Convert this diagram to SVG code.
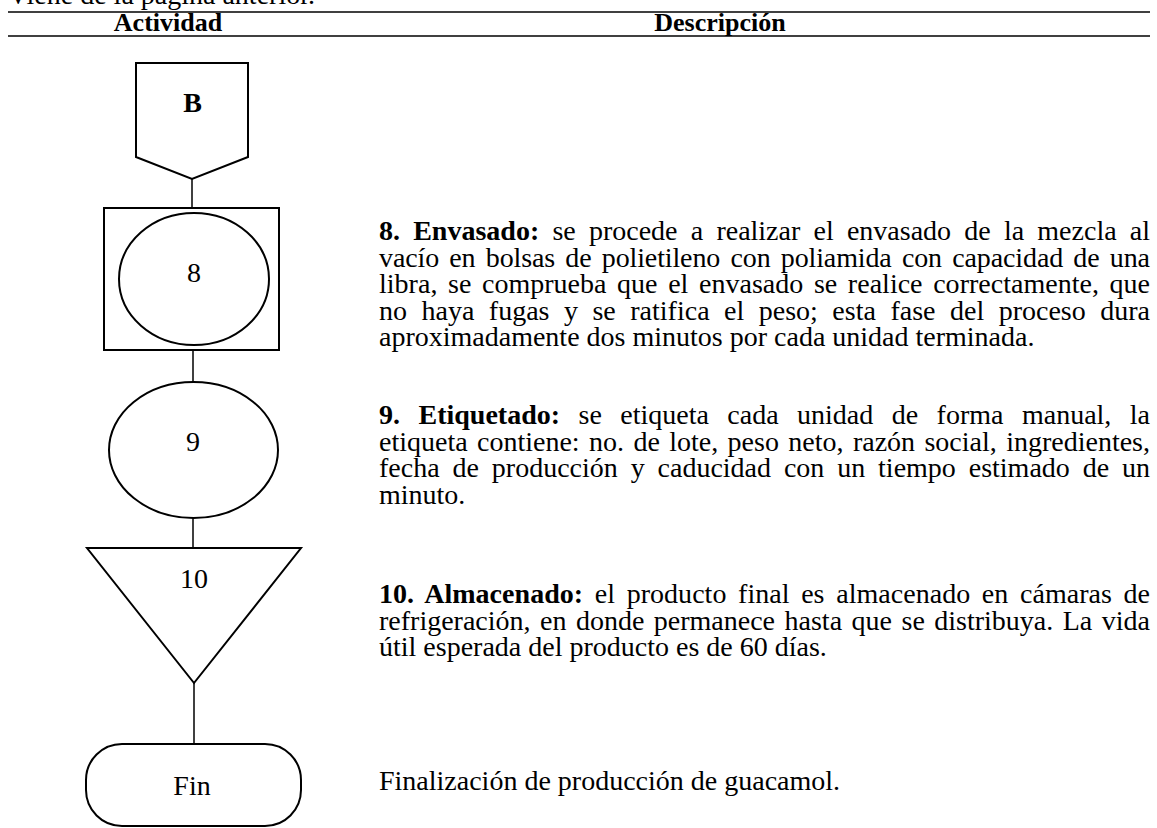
<svg xmlns="http://www.w3.org/2000/svg" width="1157" height="828" viewBox="0 0 1157 828">
<style>
.s{fill:none;stroke:#000;stroke-width:2}
.c{fill:none;stroke:#000;stroke-width:1.5}
.t{font-family:"Liberation Serif","Times New Roman",serif;font-size:28px;fill:#000}
.h{font-family:"Liberation Serif","Times New Roman",serif;font-size:26px;font-weight:bold;fill:#000;text-anchor:middle}
.b{font-weight:bold}
.m{text-anchor:middle}
</style>
<rect width="1157" height="828" fill="#fff"/>
<text class="t" x="8" y="4">Viene de la página anterior.</text>
<line x1="8" y1="12" x2="1150" y2="12" stroke="#000" stroke-width="1.5"/>
<line x1="8" y1="36" x2="1150" y2="36" stroke="#000" stroke-width="1.5"/>
<text class="h" x="168" y="31">Actividad</text>
<text class="h" x="720" y="31">Descripción</text>
<g id="connectors">
<line class="c" x1="192" y1="179" x2="192" y2="208"/>
<line class="c" x1="193" y1="350" x2="193" y2="382"/>
<line class="c" x1="193" y1="518" x2="193" y2="548"/>
<line class="c" x1="194" y1="683" x2="194" y2="744"/>
</g>
<g id="nodeB">
<polygon class="s" points="136,63 248,63 248,157 192,179 136,157"/>
<text class="t b m" x="192.5" y="112">B</text>
</g>
<g id="node8">
<rect class="s" x="104" y="208" width="175" height="142"/>
<ellipse class="s" cx="194" cy="279" rx="75" ry="66"/>
<text class="t m" x="194" y="282">8</text>
</g>
<g id="node9">
<ellipse class="s" cx="193.5" cy="450" rx="84.5" ry="68"/>
<text class="t m" x="193" y="451">9</text>
</g>
<g id="node10">
<polygon class="s" points="87,548 301,548 194,683"/>
<text class="t m" x="194" y="588">10</text>
</g>
<g id="nodeFin">
<rect class="s" x="86" y="744" width="215" height="82" rx="36" ry="36"/>
<text class="t m" x="192" y="795">Fin</text>
</g>
<g id="desc">
<text class="t" x="379" y="240" word-spacing="6.19" textLength="771" lengthAdjust="spacing"><tspan class="b">8. Envasado:</tspan> se procede a realizar el envasado de la mezcla al</text>
<text class="t" x="379" y="266.5" word-spacing="3.38" textLength="771" lengthAdjust="spacing">vacío en bolsas de polietileno con poliamida con capacidad de una</text>
<text class="t" x="379" y="293" word-spacing="3.58" textLength="771" lengthAdjust="spacing">libra, se comprueba que el envasado se realice correctamente, que</text>
<text class="t" x="379" y="319.5" word-spacing="7.49" textLength="771" lengthAdjust="spacing">no haya fugas y se ratifica el peso; esta fase del proceso dura</text>
<text class="t" x="379" y="346">aproximadamente dos minutos por cada unidad terminada.</text>
<text class="t" x="379" y="424" word-spacing="11.44" textLength="771" lengthAdjust="spacing"><tspan class="b">9. Etiquetado:</tspan> se etiqueta cada unidad de forma manual, la</text>
<text class="t" x="379" y="450.5" word-spacing="2.38" textLength="771" lengthAdjust="spacing">etiqueta contiene: no. de lote, peso neto, razón social, ingredientes,</text>
<text class="t" x="379" y="477" word-spacing="5.87" textLength="771" lengthAdjust="spacing">fecha de producción y caducidad con un tiempo estimado de un</text>
<text class="t" x="379" y="503.5">minuto.</text>
<text class="t" x="379" y="603" word-spacing="4.62" textLength="771" lengthAdjust="spacing"><tspan class="b">10. Almacenado:</tspan> el producto final es almacenado en cámaras de</text>
<text class="t" x="379" y="629.5" word-spacing="2.53" textLength="771" lengthAdjust="spacing">refrigeración, en donde permanece hasta que se distribuya. La vida</text>
<text class="t" x="379" y="656">útil esperada del producto es de 60 días.</text>
<text class="t" x="379" y="790">Finalización de producción de guacamol.</text>
</g>
</svg>
